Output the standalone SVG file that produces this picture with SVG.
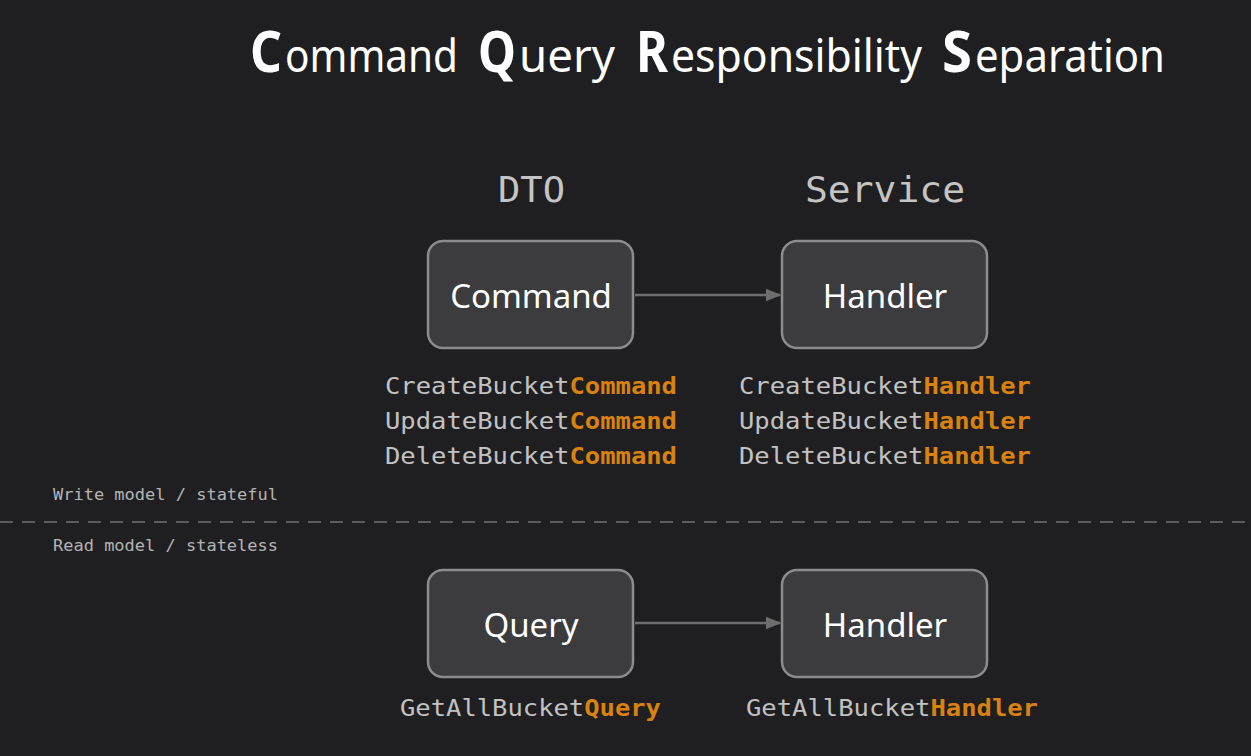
<svg xmlns="http://www.w3.org/2000/svg" width="1251" height="756" viewBox="0 0 1251 756">
<style>
.title{font-family:"Noto Sans","Liberation Sans",sans-serif;fill:#ffffff;font-size:46px}
.cap{font-family:"Noto Sans","Liberation Sans",sans-serif;fill:#ffffff;font-size:58px;font-weight:bold}
.box{fill:#3c3c3e;stroke:#8c8c8c;stroke-width:2.5}
.boxlabel{font-family:"Noto Sans","Liberation Sans",sans-serif;fill:#ffffff;font-size:33px;text-anchor:middle}
.head{font-family:"DejaVu Sans Mono","Liberation Mono",monospace;fill:#c4c4c4;font-size:35px}
.code{font-family:"DejaVu Sans Mono","Liberation Mono",monospace;fill:#c2c2c2;font-size:23px}
.hl{fill:#d9820f;font-weight:bold}
.small{font-family:"DejaVu Sans Mono","Liberation Mono",monospace;fill:#b4b4b4;font-size:16px}
.conn{stroke:#6e6e6e;stroke-width:2.5;fill:none}
</style>
<defs>
<marker id="arrow" viewBox="0 0 10 10" refX="9" refY="5" markerWidth="16" markerHeight="16" markerUnits="userSpaceOnUse" orient="auto">
<path d="M0,1 L10,5 L0,9 z" fill="#6e6e6e"/>
</marker>
</defs>
<rect width="1251" height="756" fill="#1f1f21"/>
<g id="title">
<text class="cap" x="250" y="72" textLength="32" lengthAdjust="spacingAndGlyphs">C</text>
<text class="title" x="285" y="72" textLength="173" lengthAdjust="spacingAndGlyphs">ommand</text>
<text class="cap" x="478" y="72" textLength="38" lengthAdjust="spacingAndGlyphs">Q</text>
<text class="title" x="519" y="72" textLength="96" lengthAdjust="spacingAndGlyphs">uery</text>
<text class="cap" x="636" y="72" textLength="32" lengthAdjust="spacingAndGlyphs">R</text>
<text class="title" x="671" y="72" textLength="251" lengthAdjust="spacingAndGlyphs">esponsibility</text>
<text class="cap" x="942" y="72" textLength="30" lengthAdjust="spacingAndGlyphs">S</text>
<text class="title" x="975" y="72" textLength="190" lengthAdjust="spacingAndGlyphs">eparation</text>
</g>
<text class="head" x="498" y="202" textLength="67" lengthAdjust="spacingAndGlyphs">DTO</text>
<text class="head" x="805" y="202" textLength="160" lengthAdjust="spacingAndGlyphs">Service</text>
<g id="connectors">
<line class="conn" x1="635" y1="295" x2="780" y2="295" marker-end="url(#arrow)"/>
<line class="conn" x1="635" y1="623" x2="780" y2="623" marker-end="url(#arrow)"/>
</g>
<g id="command">
<rect class="box" x="428" y="241" width="205" height="107" rx="15"/>
<text class="boxlabel" x="531" y="308">Command</text>
</g>
<g id="handler-write">
<rect class="box" x="782" y="241" width="205" height="107" rx="15"/>
<text class="boxlabel" x="885" y="308">Handler</text>
</g>
<g id="query">
<rect class="box" x="428" y="570" width="205" height="107" rx="15"/>
<text class="boxlabel" x="531" y="637">Query</text>
</g>
<g id="handler-read">
<rect class="box" x="782" y="570" width="205" height="107" rx="15"/>
<text class="boxlabel" x="885" y="637">Handler</text>
</g>
<g id="write-names">
<text class="code" x="385" y="394" textLength="292" lengthAdjust="spacingAndGlyphs">CreateBucket<tspan class="hl">Command</tspan></text>
<text class="code" x="385" y="429" textLength="292" lengthAdjust="spacingAndGlyphs">UpdateBucket<tspan class="hl">Command</tspan></text>
<text class="code" x="385" y="464" textLength="292" lengthAdjust="spacingAndGlyphs">DeleteBucket<tspan class="hl">Command</tspan></text>
<text class="code" x="739" y="394" textLength="292" lengthAdjust="spacingAndGlyphs">CreateBucket<tspan class="hl">Handler</tspan></text>
<text class="code" x="739" y="429" textLength="292" lengthAdjust="spacingAndGlyphs">UpdateBucket<tspan class="hl">Handler</tspan></text>
<text class="code" x="739" y="464" textLength="292" lengthAdjust="spacingAndGlyphs">DeleteBucket<tspan class="hl">Handler</tspan></text>
</g>
<g id="read-names">
<text class="code" x="400" y="716" textLength="261" lengthAdjust="spacingAndGlyphs">GetAllBucket<tspan class="hl">Query</tspan></text>
<text class="code" x="746" y="716" textLength="292" lengthAdjust="spacingAndGlyphs">GetAllBucket<tspan class="hl">Handler</tspan></text>
</g>
<g id="separator">
<text class="small" x="53" y="500" textLength="225" lengthAdjust="spacingAndGlyphs">Write model / stateful</text>
<line x1="0" y1="522" x2="1251" y2="522" stroke="#5c5c5e" stroke-width="2" stroke-dasharray="13 9"/>
<text class="small" x="53" y="551" textLength="225" lengthAdjust="spacingAndGlyphs">Read model / stateless</text>
</g>
</svg>
